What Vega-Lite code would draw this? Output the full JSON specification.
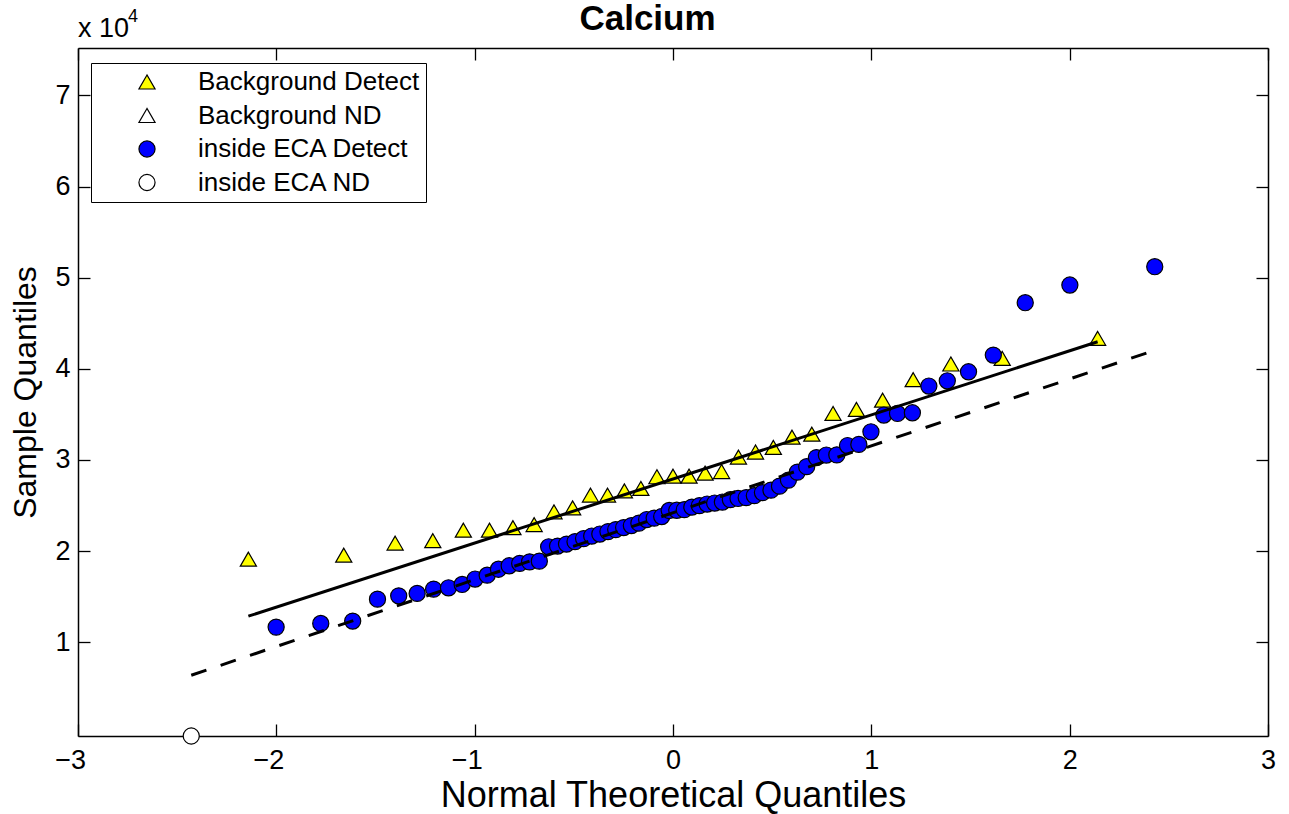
{
  "$schema": "https://vega.github.io/schema/vega-lite/v6.json",
  "width": 1190,
  "height": 688,
  "autosize": "none",
  "padding": {"left": 78, "top": 48, "right": 21, "bottom": 78},
  "background": "white",
  "datasets": {
    "points": [
      {"s": "Background Detect", "q": -2.141, "v": 19110},
      {"s": "Background Detect", "q": -1.660, "v": 19550},
      {"s": "Background Detect", "q": -1.401, "v": 20870},
      {"s": "Background Detect", "q": -1.211, "v": 21140},
      {"s": "Background Detect", "q": -1.057, "v": 22290},
      {"s": "Background Detect", "q": -0.925, "v": 22290},
      {"s": "Background Detect", "q": -0.807, "v": 22570},
      {"s": "Background Detect", "q": -0.700, "v": 22900},
      {"s": "Background Detect", "q": -0.600, "v": 24300},
      {"s": "Background Detect", "q": -0.506, "v": 24740},
      {"s": "Background Detect", "q": -0.416, "v": 26140},
      {"s": "Background Detect", "q": -0.330, "v": 26140},
      {"s": "Background Detect", "q": -0.245, "v": 26600},
      {"s": "Background Detect", "q": -0.162, "v": 26870},
      {"s": "Background Detect", "q": -0.081, "v": 28150},
      {"s": "Background Detect", "q": 0.0, "v": 28220},
      {"s": "Background Detect", "q": 0.081, "v": 28220},
      {"s": "Background Detect", "q": 0.162, "v": 28550},
      {"s": "Background Detect", "q": 0.245, "v": 28720},
      {"s": "Background Detect", "q": 0.330, "v": 30310},
      {"s": "Background Detect", "q": 0.416, "v": 30860},
      {"s": "Background Detect", "q": 0.506, "v": 31370},
      {"s": "Background Detect", "q": 0.600, "v": 32500},
      {"s": "Background Detect", "q": 0.700, "v": 32830},
      {"s": "Background Detect", "q": 0.807, "v": 35100},
      {"s": "Background Detect", "q": 0.925, "v": 35540},
      {"s": "Background Detect", "q": 1.057, "v": 36560},
      {"s": "Background Detect", "q": 1.211, "v": 38810},
      {"s": "Background Detect", "q": 1.401, "v": 40520},
      {"s": "Background Detect", "q": 1.660, "v": 41140},
      {"s": "Background Detect", "q": 2.141, "v": 43340},
      {"s": "inside ECA ND", "q": -2.429, "v": -300},
      {"s": "inside ECA Detect", "q": -2.001, "v": 11650},
      {"s": "inside ECA Detect", "q": -1.776, "v": 12050},
      {"s": "inside ECA Detect", "q": -1.615, "v": 12310},
      {"s": "inside ECA Detect", "q": -1.490, "v": 14720},
      {"s": "inside ECA Detect", "q": -1.383, "v": 15080},
      {"s": "inside ECA Detect", "q": -1.290, "v": 15350},
      {"s": "inside ECA Detect", "q": -1.207, "v": 15820},
      {"s": "inside ECA Detect", "q": -1.132, "v": 15960},
      {"s": "inside ECA Detect", "q": -1.063, "v": 16330},
      {"s": "inside ECA Detect", "q": -0.998, "v": 16920},
      {"s": "inside ECA Detect", "q": -0.937, "v": 17350},
      {"s": "inside ECA Detect", "q": -0.880, "v": 18000},
      {"s": "inside ECA Detect", "q": -0.826, "v": 18380},
      {"s": "inside ECA Detect", "q": -0.773, "v": 18640},
      {"s": "inside ECA Detect", "q": -0.723, "v": 18810},
      {"s": "inside ECA Detect", "q": -0.674, "v": 18890},
      {"s": "inside ECA Detect", "q": -0.627, "v": 20460},
      {"s": "inside ECA Detect", "q": -0.582, "v": 20540},
      {"s": "inside ECA Detect", "q": -0.537, "v": 20760},
      {"s": "inside ECA Detect", "q": -0.494, "v": 21030},
      {"s": "inside ECA Detect", "q": -0.451, "v": 21360},
      {"s": "inside ECA Detect", "q": -0.410, "v": 21640},
      {"s": "inside ECA Detect", "q": -0.369, "v": 21860},
      {"s": "inside ECA Detect", "q": -0.328, "v": 22130},
      {"s": "inside ECA Detect", "q": -0.289, "v": 22350},
      {"s": "inside ECA Detect", "q": -0.249, "v": 22570},
      {"s": "inside ECA Detect", "q": -0.210, "v": 22790},
      {"s": "inside ECA Detect", "q": -0.172, "v": 23060},
      {"s": "inside ECA Detect", "q": -0.133, "v": 23450},
      {"s": "inside ECA Detect", "q": -0.095, "v": 23610},
      {"s": "inside ECA Detect", "q": -0.057, "v": 23780},
      {"s": "inside ECA Detect", "q": -0.019, "v": 24450},
      {"s": "inside ECA Detect", "q": 0.019, "v": 24470},
      {"s": "inside ECA Detect", "q": 0.057, "v": 24540},
      {"s": "inside ECA Detect", "q": 0.095, "v": 24820},
      {"s": "inside ECA Detect", "q": 0.133, "v": 24980},
      {"s": "inside ECA Detect", "q": 0.172, "v": 25150},
      {"s": "inside ECA Detect", "q": 0.210, "v": 25260},
      {"s": "inside ECA Detect", "q": 0.249, "v": 25370},
      {"s": "inside ECA Detect", "q": 0.289, "v": 25640},
      {"s": "inside ECA Detect", "q": 0.328, "v": 25770},
      {"s": "inside ECA Detect", "q": 0.369, "v": 25860},
      {"s": "inside ECA Detect", "q": 0.410, "v": 26080},
      {"s": "inside ECA Detect", "q": 0.451, "v": 26410},
      {"s": "inside ECA Detect", "q": 0.494, "v": 26680},
      {"s": "inside ECA Detect", "q": 0.537, "v": 27120},
      {"s": "inside ECA Detect", "q": 0.582, "v": 27780},
      {"s": "inside ECA Detect", "q": 0.627, "v": 28660},
      {"s": "inside ECA Detect", "q": 0.674, "v": 29260},
      {"s": "inside ECA Detect", "q": 0.723, "v": 30250},
      {"s": "inside ECA Detect", "q": 0.773, "v": 30530},
      {"s": "inside ECA Detect", "q": 0.826, "v": 30550},
      {"s": "inside ECA Detect", "q": 0.880, "v": 31570},
      {"s": "inside ECA Detect", "q": 0.937, "v": 31700},
      {"s": "inside ECA Detect", "q": 0.998, "v": 33080},
      {"s": "inside ECA Detect", "q": 1.063, "v": 34920},
      {"s": "inside ECA Detect", "q": 1.132, "v": 35100},
      {"s": "inside ECA Detect", "q": 1.207, "v": 35170},
      {"s": "inside ECA Detect", "q": 1.290, "v": 38100},
      {"s": "inside ECA Detect", "q": 1.383, "v": 38680},
      {"s": "inside ECA Detect", "q": 1.490, "v": 39670},
      {"s": "inside ECA Detect", "q": 1.615, "v": 41500},
      {"s": "inside ECA Detect", "q": 1.776, "v": 47250},
      {"s": "inside ECA Detect", "q": 2.001, "v": 49190},
      {"s": "inside ECA Detect", "q": 2.429, "v": 51200}
    ],
    "fits": [
      {"fit": "Background", "q": -2.141, "v": 12850},
      {"fit": "Background", "q": 2.141, "v": 42960},
      {"fit": "inside ECA", "q": -2.429, "v": 6370},
      {"fit": "inside ECA", "q": 2.429, "v": 42030}
    ],
    "note": [{"n": 1}]
  },
  "layer": [
    {
      "data": {"name": "points"},
      "transform": [{"filter": "indexof(datum.s, 'Background') === 0"}],
      "mark": {"type": "point", "filled": true, "strokeWidth": 1.2, "opacity": 1},
      "encoding": {
        "x": {"field": "q", "type": "quantitative", "scale": {"domain": [-3, 3], "nice": false, "zero": false},
          "axis": {"values": [-3, -2, -1, 0, 1, 2, 3], "title": "Normal Theoretical Quantiles", "titleFontSize": 36, "tickSize": -12, "labelPadding": 23, "titlePadding": 5, "labelAlign": "right", "labelOffset": 7.5}},
        "y": {"field": "v", "type": "quantitative", "scale": {"domain": [-300, 75200], "nice": false, "zero": false},
          "axis": {"values": [10000, 20000, 30000, 40000, 50000, 60000, 70000], "labelExpr": "datum.value / 10000", "title": "Sample Quantiles", "tickSize": -12, "labelPadding": 20, "titlePadding": 12}},
        "fill": {"field": "s", "type": "nominal", "scale": {"domain": ["Background Detect", "Background ND", "inside ECA Detect", "inside ECA ND"], "range": ["#ffff00", "#ffffff", "#0000ff", "#ffffff"]}, "legend": {"title": null, "labelLimit": 500}},
        "stroke": {"field": "s", "type": "nominal", "scale": {"domain": ["Background Detect", "Background ND", "inside ECA Detect", "inside ECA ND"], "range": ["#000000", "#000000", "#000000", "#000000"]}, "legend": {"title": null, "labelLimit": 500}},
        "shape": {"field": "s", "type": "nominal", "scale": {"domain": ["Background Detect", "Background ND", "inside ECA Detect", "inside ECA ND"], "range": ["triangle-up", "triangle-up", "circle", "circle"]}, "legend": {"title": null, "labelLimit": 500}},
        "size": {"field": "s", "type": "nominal", "scale": {"domain": ["Background Detect", "Background ND", "inside ECA Detect", "inside ECA ND"], "range": [260, 260, 165, 165]}, "legend": {"title": null, "labelLimit": 500}}
      }
    },
    {
      "data": {"name": "points"},
      "transform": [{"filter": "indexof(datum.s, 'inside') === 0"}],
      "mark": {"type": "point", "filled": true, "strokeWidth": 1.2, "opacity": 1},
      "encoding": {
        "x": {"field": "q", "type": "quantitative", "scale": {"domain": [-3, 3], "nice": false, "zero": false}, "axis": null},
        "y": {"field": "v", "type": "quantitative", "scale": {"domain": [-300, 75200], "nice": false, "zero": false}, "axis": null},
        "fill": {"field": "s", "type": "nominal", "scale": {"domain": ["Background Detect", "Background ND", "inside ECA Detect", "inside ECA ND"], "range": ["#ffff00", "#ffffff", "#0000ff", "#ffffff"]}, "legend": {"title": null, "labelLimit": 500}},
        "stroke": {"field": "s", "type": "nominal", "scale": {"domain": ["Background Detect", "Background ND", "inside ECA Detect", "inside ECA ND"], "range": ["#000000", "#000000", "#000000", "#000000"]}, "legend": {"title": null, "labelLimit": 500}},
        "shape": {"field": "s", "type": "nominal", "scale": {"domain": ["Background Detect", "Background ND", "inside ECA Detect", "inside ECA ND"], "range": ["triangle-up", "triangle-up", "circle", "circle"]}, "legend": {"title": null, "labelLimit": 500}},
        "size": {"field": "s", "type": "nominal", "scale": {"domain": ["Background Detect", "Background ND", "inside ECA Detect", "inside ECA ND"], "range": [260, 260, 165, 165]}, "legend": {"title": null, "labelLimit": 500}}
      }
    },
    {
      "data": {"name": "fits"},
      "transform": [{"filter": "datum.fit === 'Background'"}],
      "mark": {"type": "line", "color": "black", "strokeWidth": 3},
      "encoding": {
        "x": {"field": "q", "type": "quantitative", "scale": {"domain": [-3, 3], "nice": false, "zero": false}, "axis": null},
        "y": {"field": "v", "type": "quantitative", "scale": {"domain": [-300, 75200], "nice": false, "zero": false}, "axis": null}
      }
    },
    {
      "data": {"name": "fits"},
      "transform": [{"filter": "datum.fit === 'inside ECA'"}],
      "mark": {"type": "line", "color": "black", "strokeWidth": 3, "strokeDash": [16, 15]},
      "encoding": {
        "x": {"field": "q", "type": "quantitative", "scale": {"domain": [-3, 3], "nice": false, "zero": false}, "axis": null},
        "y": {"field": "v", "type": "quantitative", "scale": {"domain": [-300, 75200], "nice": false, "zero": false}, "axis": null}
      }
    },
    {
      "data": {"name": "fits"},
      "mark": {"type": "point", "opacity": 0},
      "encoding": {
        "x": {"field": "q", "type": "quantitative", "scale": {"domain": [-3, 3], "nice": false, "zero": false},
          "axis": {"orient": "top", "values": [-3, -2, -1, 0, 1, 2, 3], "labels": false, "tickSize": -12,
            "title": "Calcium", "titleFontSize": 35, "titleFontWeight": "bold", "titleAngle": 0, "titleAlign": "center", "titleBaseline": "alphabetic", "titleX": 569, "titleY": -19}},
        "y": {"field": "v", "type": "quantitative", "scale": {"domain": [-300, 75200], "nice": false, "zero": false},
          "axis": {"orient": "right", "values": [10000, 20000, 30000, 40000, 50000, 60000, 70000], "labels": false, "title": null, "tickSize": -12}}
      }
    },
    {
      "data": {"name": "note"},
      "mark": {"type": "text", "text": "x 10", "align": "left", "baseline": "alphabetic", "fontSize": 27, "dy": -11, "color": "black"},
      "encoding": {
        "x": {"datum": -3, "type": "quantitative", "scale": {"domain": [-3, 3], "nice": false, "zero": false}, "axis": null},
        "y": {"datum": 75200, "type": "quantitative", "scale": {"domain": [-300, 75200], "nice": false, "zero": false}, "axis": null}
      }
    },
    {
      "data": {"name": "note"},
      "mark": {"type": "text", "text": "4", "align": "left", "baseline": "alphabetic", "fontSize": 18, "dx": 50, "dy": -26, "color": "black"},
      "encoding": {
        "x": {"datum": -3, "type": "quantitative", "scale": {"domain": [-3, 3], "nice": false, "zero": false}, "axis": null},
        "y": {"datum": 75200, "type": "quantitative", "scale": {"domain": [-300, 75200], "nice": false, "zero": false}, "axis": null}
      }
    }
  ],
  "resolve": {"axis": {"x": "independent", "y": "independent"}},
  "config": {
    "font": "Liberation Sans",
    "view": {"stroke": null},
    "axis": {"grid": false, "domainColor": "black", "domainWidth": 1.5, "tickColor": "black", "tickWidth": 1.3, "labelColor": "black", "titleColor": "black", "labelFont": "Liberation Sans", "titleFont": "Liberation Sans", "labelFontSize": 27, "titleFontSize": 32, "titleFontWeight": "normal", "labelFlush": false, "labelOverlap": false},
    "legend": {"orient": "none", "legendX": 13, "legendY": 15, "strokeColor": "black", "fillColor": "white", "padding": 6, "labelFont": "Liberation Sans", "labelFontSize": 26, "labelColor": "black", "labelLimit": 500, "symbolStrokeWidth": 1.2, "symbolOffset": 37, "labelOffset": 38, "rowPadding": 7.5}
  }
}
